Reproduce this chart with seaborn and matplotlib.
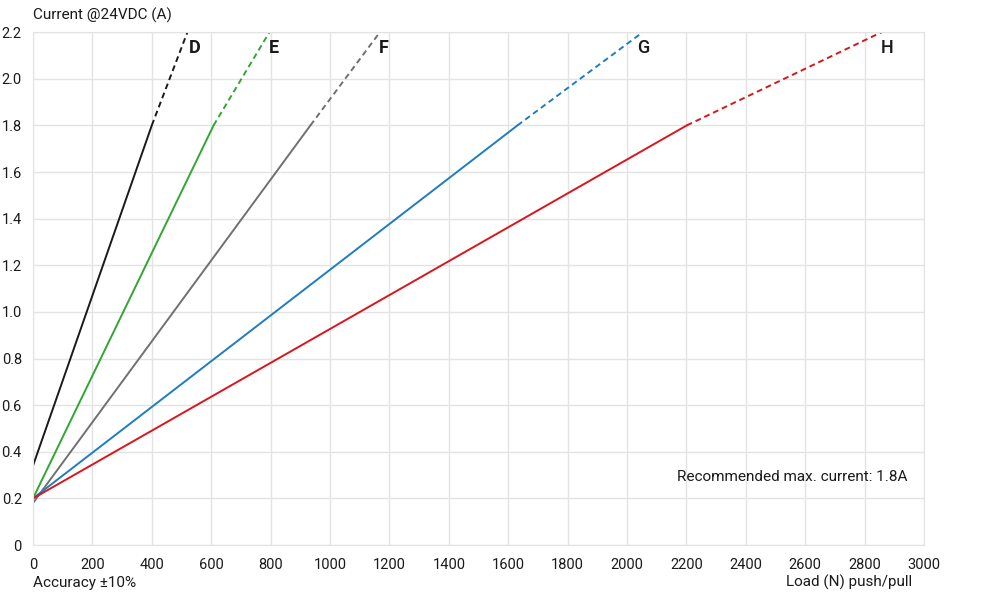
import pandas as pd
import seaborn as sns
import matplotlib.pyplot as plt

# actuator current vs load, solid up to the recommended 1.8A, dashed beyond
names = ['D', 'E', 'F', 'G', 'H']
colors = ['#1a1a1a', '#33a532', '#707070', '#1f7cc2', '#d9161c']
load_start = [0, 0, 0, 0, 0]
load_rec = [400, 608, 934, 1631, 2201]
load_end = [520, 796, 1168, 2053, 2857]
cur_start = [0.34, 0.20, 0.18, 0.20, 0.20]
cur_rec = [1.8, 1.8, 1.8, 1.8, 1.8]
cur_end = [2.2, 2.2, 2.2, 2.2, 2.2]
label_x = [546, 810, 1180, 2054, 2877]
label_y = [2.13, 2.13, 2.13, 2.13, 2.13]
label_bold = [True, True, True, False, False]

xticks = list(range(0, 3001, 200))
yticks = [0, 0.2, 0.4, 0.6, 0.8, 1.0, 1.2, 1.4, 1.6, 1.8, 2.0, 2.2]
ytick_labels = ['0', '0.2', '0.4', '0.6', '0.8', '1.0', '1.2', '1.4', '1.6', '1.8', '2.0', '2.2']

sns.set_style('white')
plt.rcParams['font.family'] = ['Roboto', 'DejaVu Sans']
fontsize = 10.5

fig = plt.figure(figsize=(9.99, 6.07), dpi=100)
ax = fig.add_axes([0.033, 0.102, 0.892, 0.845])

for i, n in enumerate(names):
    solid = pd.DataFrame({'load': [load_start[i], load_rec[i]], 'current': [cur_start[i], cur_rec[i]]})
    dashed = pd.DataFrame({'load': [load_rec[i], load_end[i]], 'current': [cur_rec[i], cur_end[i]]})
    sns.lineplot(data=solid, x='load', y='current', color=colors[i], linewidth=1.4, ax=ax)
    sns.lineplot(data=dashed, x='load', y='current', color=colors[i], linewidth=1.4,
                 linestyle=(0, (3, 2)), ax=ax)
    ax.text(label_x[i], label_y[i], n, fontsize=13, color='#1a1a1a', ha='center', va='center',
            fontweight='bold' if label_bold[i] else 'medium')

ax.set_xlim(0, 3000)
ax.set_ylim(0, 2.2)
ax.set_xticks(xticks)
ax.set_yticks(yticks)
ax.set_yticklabels(ytick_labels)
ax.grid(True, color='#e3e3e3', linewidth=1)
ax.set_axisbelow(True)
for s in ax.spines.values():
    s.set_color('#e3e3e3')
ax.tick_params(axis='both', length=0, labelsize=fontsize, labelcolor='#1a1a1a')
ax.tick_params(axis='x', pad=9)
ax.tick_params(axis='y', pad=8)
ax.set_xlabel('')
ax.set_ylabel('')

ax.text(2944, 0.29, 'Recommended max. current: 1.8A', fontsize=11, ha='right', va='center', color='#1a1a1a')
fig.text(0.033, 0.975, 'Current @24VDC (A)', fontsize=11, ha='left', va='center', color='#1a1a1a')
fig.text(0.033, 0.04, 'Accuracy ±10%', fontsize=11, ha='left', va='center', color='#1a1a1a')
fig.text(0.913, 0.04, 'Load (N) push/pull', fontsize=11, ha='right', va='center', color='#1a1a1a')

plt.savefig('out.png', dpi=100)
